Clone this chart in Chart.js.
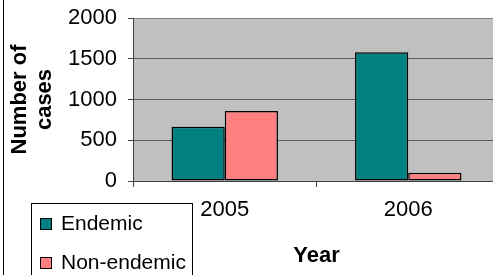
<!DOCTYPE html>
<html>
<head>
<meta charset="utf-8">
<script src="https://cdn.jsdelivr.net/npm/chart.js@4.4.1/dist/chart.umd.min.js"></script>
<style>
html, body { margin: 0; padding: 0; overflow: hidden; background: #fff; }
</style>
</head>
<body>
<canvas id="graphique-cas" width="510" height="275"></canvas>
<script>
// Données
const annees = ["2005", "2006"];
const endemique = [665, 1580];
const nonEndemique = [860, 100];
const graduations = [0, 500, 1000, 1500, 2000];
const libelles = ["Endemic", "Non-endemic"];
const couleurs = ["#008080", "#FF8080"];

const police = "'Liberation Sans', Arial, sans-serif";

// Fond gris de la zone de tracé + cadre gauche
const fondPlugin = {
    id: "fond",
    beforeDraw(chart) {
        const { ctx, chartArea } = chart;
        ctx.save();
        ctx.fillStyle = "#C0C0C0";
        ctx.fillRect(chartArea.left, chartArea.top, chartArea.right - chartArea.left, chartArea.bottom - chartArea.top);
        ctx.strokeStyle = "#000";
        ctx.lineWidth = 1;
        ctx.beginPath();
        ctx.moveTo(3.5, 0);
        ctx.lineTo(3.5, chart.height);
        ctx.stroke();
        ctx.restore();
    }
};

// Légende encadrée en bas à gauche
const legendePlugin = {
    id: "legendeEncadree",
    afterDraw(chart) {
        const ctx = chart.ctx;
        ctx.save();
        ctx.strokeStyle = "#000";
        ctx.lineWidth = 1;
        ctx.strokeRect(31.5, 203.5, 161, 80);
        ctx.font = "21px " + police;
        ctx.textBaseline = "middle";
        const lignes = [223, 262];
        chart.data.datasets.forEach((ds, i) => {
            ctx.fillStyle = ds.backgroundColor;
            ctx.fillRect(40, lignes[i] - 5, 11, 11);
            ctx.strokeRect(40.5, lignes[i] - 4.5, 11, 11);
            ctx.fillStyle = "#000";
            ctx.fillText(ds.label, 61, lignes[i] + 1);
        });
        ctx.restore();
    }
};

const data = {
    labels: annees,
    datasets: [{
            label: libelles[0],
            data: endemique,
            backgroundColor: couleurs[0],
        }, {
            label: libelles[1],
            data: nonEndemique,
            backgroundColor: couleurs[1],
        }],
};

const config = {
    type: "bar",
    data: data,
    plugins: [fondPlugin, legendePlugin],
    options: {
        responsive: false,
        animation: false,
        layout: { padding: { top: 18, right: 10, left: 0, bottom: 0 } },
        datasets: {
            bar: {
                categoryPercentage: 0.58,
                barPercentage: 1,
                borderColor: "#000",
                borderWidth: 1.5,
                borderSkipped: false,
            }
        },
        plugins: {
            legend: { display: false },
            tooltip: { enabled: false },
        },
        scales: {
            x: {
                afterFit: (scale) => { scale.height = 94; },
                border: { color: "#404040", width: 1 },
                grid: { drawOnChartArea: false, tickLength: 6, tickColor: "#404040", offset: true },
                ticks: { color: "#000", font: { family: police, size: 22 }, padding: 10 },
                title: {
                    display: true,
                    text: "Year",
                    color: "#000",
                    font: { family: police, size: 22, weight: "bold", lineHeight: 1.15 },
                    padding: { top: 0, bottom: 6 },
                },
            },
            y: {
                min: 0,
                max: 2000,
                afterFit: (scale) => {
                    scale.width = 133;
                    scale.paddingTop = 0;
                    scale.paddingBottom = 0;
                },
                afterBuildTicks: (scale) => { scale.ticks = graduations.map(v => ({ value: v })); },
                border: { color: "#404040", width: 1 },
                grid: {
                    color: (c) => c.tick && c.tick.value === 2000 ? "#808080" : "#5a5a5a",
                    tickLength: 5,
                    tickColor: "#404040",
                },
                ticks: {
                    color: "#000",
                    font: { family: police, size: 22 },
                    padding: 11,
                    callback: (v) => String(v),
                },
                title: {
                    display: true,
                    text: ["Number of", "cases"],
                    color: "#000",
                    font: { family: police, size: 22, weight: "bold", lineHeight: 1.15 },
                    padding: { top: 7, bottom: 0 },
                },
            },
        },
    },
};

new Chart(document.querySelector("#graphique-cas"), config);
</script>
</body>
</html>
